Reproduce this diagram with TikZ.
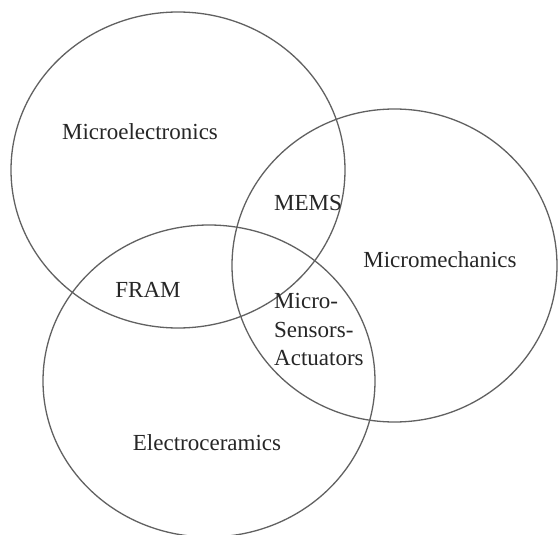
\documentclass[tikz,border=0pt]{standalone}
\usepackage{fontspec}
\setmainfont{Liberation Serif}
\usetikzlibrary{shapes.geometric}
\begin{document}
\begin{tikzpicture}[x=1pt,y=-1pt,
  setcircle/.style={draw=black!62, line width=1.3pt, ellipse, inner sep=0pt, fill=none},
  lbl/.style={text=black!85, font=\fontsize{23}{28.5}\selectfont, inner sep=0pt}]
\useasboundingbox[fill=white] (0,0) rectangle (558,535);
\node[setcircle, minimum width=334pt, minimum height=316pt] (melec) at (178,170) {};
\node[setcircle, minimum width=325pt, minimum height=313pt] (mmech) at (394.5,265.5) {};
\node[setcircle, minimum width=332pt, minimum height=312pt] (ecer) at (209,381) {};
\node[lbl, anchor=base] (tmelec) at (140,140) {Microelectronics};
\node[lbl, anchor=base] (tmems) at (308,211) {MEMS};
\node[lbl, anchor=base] (tmmech) at (440,267) {Micromechanics};
\node[lbl, anchor=base] (tfram) at (148,297) {FRAM};
\node[lbl, anchor=north west, align=left] (tmsa) at (274,293.3) {Micro-\\Sensors-\\Actuators};
\node[lbl, anchor=base] (tecer) at (207,450) {Electroceramics};
\end{tikzpicture}
\end{document}
